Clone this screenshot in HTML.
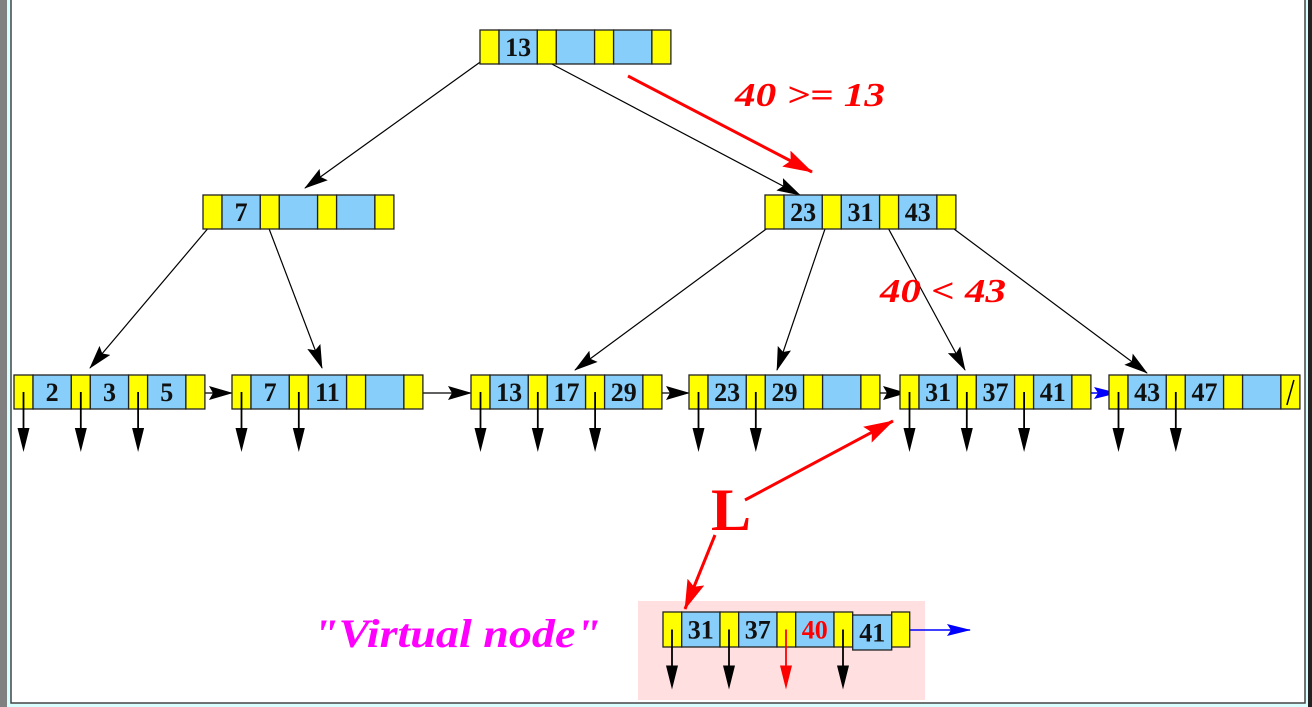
<!DOCTYPE html>
<html><head><meta charset="utf-8"><style>
html,body{margin:0;padding:0;background:#fff}
svg{display:block}
</style></head><body>
<svg width="1312" height="707" viewBox="0 0 1312 707" xmlns="http://www.w3.org/2000/svg">
<defs>
<marker id="abig" markerWidth="24" markerHeight="14" refX="23" refY="7" orient="auto" markerUnits="userSpaceOnUse"><path d="M0,0 L24,7 L0,14 L4,7 Z" fill="#000"/></marker>
<marker id="ared" markerWidth="30" markerHeight="18" refX="29" refY="9" orient="auto" markerUnits="userSpaceOnUse"><path d="M0,0 L30,9 L0,18 L5,9 Z" fill="#f00"/></marker>
<marker id="ablue" markerWidth="24" markerHeight="12" refX="23" refY="6" orient="auto" markerUnits="userSpaceOnUse"><path d="M0,0 L24,6 L0,12 L4,6 Z" fill="#00f"/></marker>
</defs>
<rect x="0" y="0" width="1312" height="707" fill="#d8ffff"/>
<rect x="0" y="0" width="7" height="707" fill="#808080"/>
<rect x="1308" y="0" width="4" height="707" fill="#222"/>
<rect x="11" y="-2" width="1294" height="705" fill="#fff" stroke="#444" stroke-width="1.5"/>
<rect x="638" y="601" width="287" height="99" fill="#ffdfdf"/>
<g id="edges" stroke="#000" stroke-width="1.2" fill="none">
<line x1="490" y1="55" x2="305" y2="188" marker-end="url(#abig)"/>
<line x1="548" y1="62" x2="800" y2="195" marker-end="url(#abig)"/>
<line x1="210" y1="226" x2="90" y2="368" marker-end="url(#abig)"/>
<line x1="268" y1="226" x2="322" y2="368" marker-end="url(#abig)"/>
<line x1="773" y1="224" x2="575" y2="370" marker-end="url(#abig)"/>
<line x1="826" y1="226" x2="777" y2="370" marker-end="url(#abig)"/>
<line x1="887" y1="226" x2="965" y2="370" marker-end="url(#abig)"/>
<line x1="950" y1="226" x2="1147" y2="373" marker-end="url(#abig)"/>
<line x1="195" y1="393" x2="232" y2="393" marker-end="url(#abig)"/>
<line x1="413" y1="393" x2="471" y2="393" marker-end="url(#abig)"/>
<line x1="652" y1="393" x2="689" y2="393" marker-end="url(#abig)"/>
<line x1="871" y1="393" x2="906" y2="393" marker-end="url(#abig)"/>
</g>
<g stroke="#00f" stroke-width="1.5" fill="none">
<line x1="1081" y1="393" x2="1117" y2="393" marker-end="url(#ablue)"/>
<line x1="901" y1="630" x2="970" y2="630" marker-end="url(#ablue)"/>
</g>
<g stroke="#f00" stroke-width="3" fill="none">
<line x1="628" y1="76" x2="812" y2="172" marker-end="url(#ared)"/>
<line x1="745" y1="500" x2="893" y2="421" marker-end="url(#ared)"/>
<line x1="715" y1="535" x2="685" y2="609" marker-end="url(#ared)"/>
</g>
<g font-family="Liberation Serif, serif" font-weight="bold" font-style="italic" fill="#f00">
<text x="735" y="106" font-size="34" textLength="150" lengthAdjust="spacingAndGlyphs">40 &gt;= 13</text>
<text x="880" y="302" font-size="34" textLength="126" lengthAdjust="spacingAndGlyphs">40 &lt; 43</text>
</g>
<text x="711" y="530" font-family="Liberation Serif, serif" font-weight="bold" font-size="60" fill="#f00">L</text>
<text x="313" y="647" font-family="Liberation Serif, serif" font-weight="bold" font-style="italic" font-size="40" fill="#f0f" textLength="288" lengthAdjust="spacingAndGlyphs">"Virtual node"</text>
<g id="nodes"></g>
</svg>
<script>
const nodeNames=['root','internal-7','internal-23','leaf-1','leaf-2','leaf-3','leaf-4','leaf-5','leaf-6'];
const nodeKeys=[[13,'',''],[7,'',''],[23,31,43],[2,3,5],[7,11,''],[13,17,29],[23,29,''],[31,37,41],[43,47,'']];
const nodeX=[480,203,765,14,232,471,689,900,1109];
const nodeY=[30,195,195,375,375,375,375,375,375];
const leafPtrCounts=[0,0,0,3,2,3,2,3,2];
const NS='http://www.w3.org/2000/svg';
const g=document.getElementById('nodes');
function mk(t,a,p){const e=document.createElementNS(NS,t);for(const k in a)e.setAttribute(k,a[k]);(p||g).appendChild(e);return e;}
function downPtr(x,y,col,p){mk('line',{x1:x,y1:y,x2:x,y2:y+55,stroke:col,'stroke-width':1.8},p);mk('path',{d:`M${x-6},${y+36} L${x+6},${y+36} L${x},${y+60} Z`,fill:col},p);}
function drawNode(name,keys,x,y,yw,bw,h,ptrs){
  const grp=mk('g',{});
  
  
  let cx=x;
  for(let i=0;i<keys.length;i++){
    mk('rect',{x:cx,y:y,width:yw,height:h,fill:'#ffff00',stroke:'#222','stroke-width':1.3},grp);
    if(i<ptrs) downPtr(cx+yw/2,y+h/2,'#000',grp);
    cx+=yw;
    mk('rect',{x:cx,y:y,width:bw,height:h,fill:'#87cefa',stroke:'#222','stroke-width':1.3},grp);
    if(keys[i]!==''){const t=mk('text',{x:cx+bw/2,y:y+h/2+9,'text-anchor':'middle','font-family':'Liberation Serif, serif','font-weight':'bold','font-size':26,fill:'#111'},grp);t.textContent=keys[i];}
    cx+=bw;
  }
  mk('rect',{x:cx,y:y,width:yw,height:h,fill:'#ffff00',stroke:'#222','stroke-width':1.3},grp);
  return cx;
}
for(let i=0;i<nodeKeys.length;i++){
  const end=drawNode(nodeNames[i],nodeKeys[i],nodeX[i],nodeY[i],19,38.3,34,leafPtrCounts[i]);
  if(i===8){mk('line',{x1:end+6,y1:nodeY[i]+30,x2:end+13,y2:nodeY[i]+5,stroke:'#000','stroke-width':1.5});}
}
const vKeys=[31,37,40];
const vg=mk('g',{});


let cx=663;const vy=612,h=35;
for(let i=0;i<vKeys.length;i++){
  mk('rect',{x:cx,y:vy,width:18.7,height:h,fill:'#ffff00',stroke:'#222','stroke-width':1.3},vg);
  downPtr(cx+9,vy+h/2,i===2?'#f00':'#000',vg);
  cx+=18.7;
  mk('rect',{x:cx,y:vy,width:38.3,height:h,fill:'#87cefa',stroke:'#222','stroke-width':1.3},vg);
  const t=mk('text',{x:cx+19,y:vy+h/2+9,'text-anchor':'middle','font-family':'Liberation Serif, serif','font-weight':'bold','font-size':26,fill:vKeys[i]===40?'#f00':'#111'},vg);t.textContent=vKeys[i];
  cx+=38.3;
}
mk('rect',{x:cx,y:vy,width:18.7,height:h,fill:'#ffff00',stroke:'#222','stroke-width':1.3},vg);
downPtr(cx+9,vy+h/2,'#000',vg);
cx+=18.7;
mk('rect',{x:cx,y:vy+3,width:39,height:h,fill:'#87cefa',stroke:'#222','stroke-width':1.3},vg);
const t41=mk('text',{x:cx+19.5,y:vy+3+h/2+9,'text-anchor':'middle','font-family':'Liberation Serif, serif','font-weight':'bold','font-size':26,fill:'#111'},vg);t41.textContent=41;
cx+=39;
mk('rect',{x:cx,y:vy,width:18,height:h,fill:'#ffff00',stroke:'#222','stroke-width':1.3},vg);
</script>
</body></html>
